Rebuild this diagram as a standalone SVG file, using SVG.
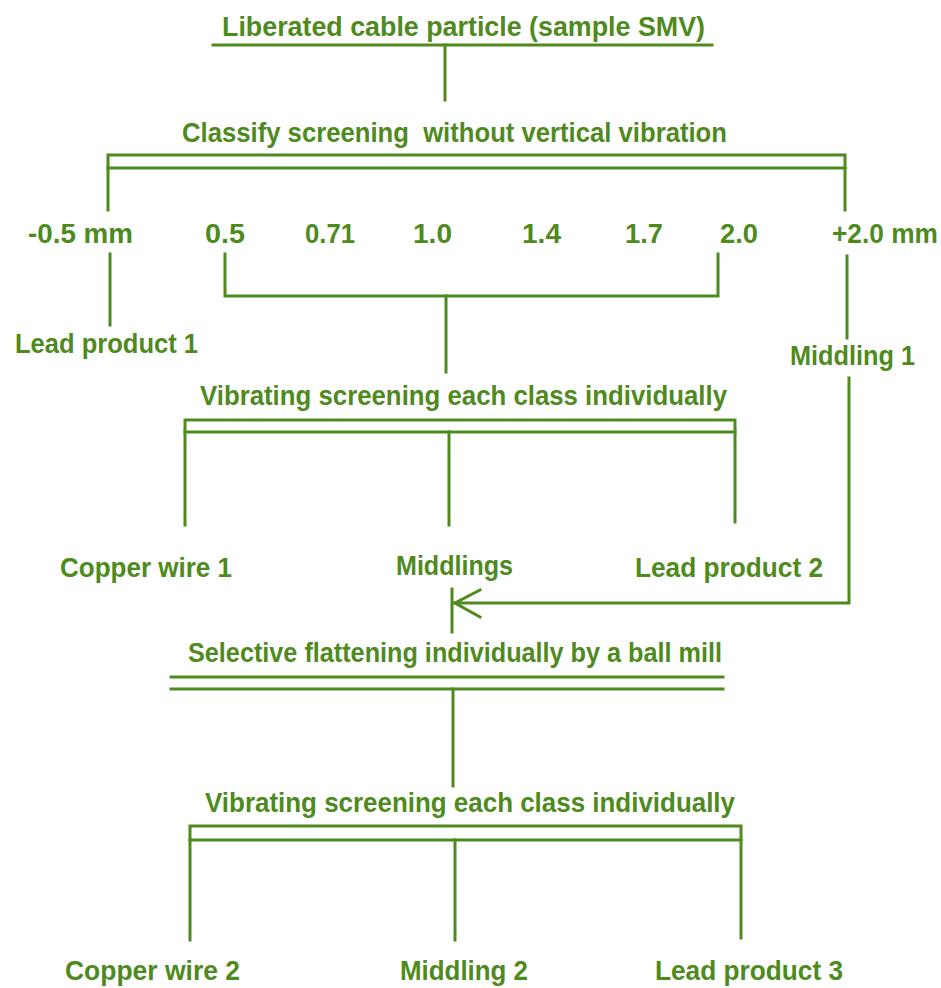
<svg xmlns="http://www.w3.org/2000/svg" width="941" height="988" viewBox="0 0 941 988">
<style>
text{font-family:"Liberation Sans",Arial,sans-serif;font-size:27px;font-weight:bold;fill:#4f8a1e;white-space:pre;}
.ln{stroke:#4f8a1e;stroke-width:3;fill:none;stroke-linecap:square;}
</style>
<rect width="941" height="988" fill="#ffffff"/>
<g id="connectors" class="ln">
<path d="M213 45 H712"/>
<path d="M445 45 V100"/>
<path d="M108 210 V155 H845 V210"/>
<path d="M108 168 H845"/>
<path d="M110 254 V325"/>
<path d="M225 254 V296 H718 V254"/>
<path d="M446 296 V372"/>
<path d="M847 256 V338"/>
<path d="M849 378 V603 H453"/>
<path d="M480 590 L455 603 L480 617"/>
<path d="M185 525 V420 H735 V522"/>
<path d="M185 432 H735"/>
<path d="M449 432 V525"/>
<path d="M452 589 V632"/>
<path d="M171 677 H723"/>
<path d="M171 689 H723"/>
<path d="M453 689 V786"/>
<path d="M190 940 V826 H741 V938"/>
<path d="M190 840 H741"/>
<path d="M455 840 V940"/>
</g>
<g id="n-source"><text x="222" y="36" textLength="483" lengthAdjust="spacingAndGlyphs">Liberated cable particle (sample SMV)</text></g>
<g id="n-classify"><text x="182" y="142" textLength="545" lengthAdjust="spacingAndGlyphs">Classify screening  without vertical vibration</text></g>
<g id="n-size-m05"><text x="28" y="243" textLength="105" lengthAdjust="spacingAndGlyphs">-0.5 mm</text></g>
<g id="n-size-05"><text x="205" y="243" textLength="40" lengthAdjust="spacingAndGlyphs">0.5</text></g>
<g id="n-size-071"><text x="305" y="243" textLength="50" lengthAdjust="spacingAndGlyphs">0.71</text></g>
<g id="n-size-10"><text x="413" y="243" textLength="39" lengthAdjust="spacingAndGlyphs">1.0</text></g>
<g id="n-size-14"><text x="522" y="243" textLength="39" lengthAdjust="spacingAndGlyphs">1.4</text></g>
<g id="n-size-17"><text x="625" y="243" textLength="38" lengthAdjust="spacingAndGlyphs">1.7</text></g>
<g id="n-size-20"><text x="720" y="243" textLength="38" lengthAdjust="spacingAndGlyphs">2.0</text></g>
<g id="n-size-p20"><text x="832" y="243" textLength="106" lengthAdjust="spacingAndGlyphs">+2.0 mm</text></g>
<g id="n-lead1"><text x="15" y="353" textLength="183" lengthAdjust="spacingAndGlyphs">Lead product 1</text></g>
<g id="n-middling1"><text x="790" y="365" textLength="125" lengthAdjust="spacingAndGlyphs">Middling 1</text></g>
<g id="n-vib1"><text x="200" y="405" textLength="527" lengthAdjust="spacingAndGlyphs">Vibrating screening each class individually</text></g>
<g id="n-copper1"><text x="60" y="577" textLength="172" lengthAdjust="spacingAndGlyphs">Copper wire 1</text></g>
<g id="n-middlings"><text x="396" y="575" textLength="117" lengthAdjust="spacingAndGlyphs">Middlings</text></g>
<g id="n-lead2"><text x="635" y="577" textLength="188" lengthAdjust="spacingAndGlyphs">Lead product 2</text></g>
<g id="n-flatten"><text x="188" y="662" textLength="534" lengthAdjust="spacingAndGlyphs">Selective flattening individually by a ball mill</text></g>
<g id="n-vib2"><text x="205" y="812" textLength="530" lengthAdjust="spacingAndGlyphs">Vibrating screening each class individually</text></g>
<g id="n-copper2"><text x="65" y="980" textLength="175" lengthAdjust="spacingAndGlyphs">Copper wire 2</text></g>
<g id="n-middling2"><text x="400" y="980" textLength="128" lengthAdjust="spacingAndGlyphs">Middling 2</text></g>
<g id="n-lead3"><text x="655" y="980" textLength="188" lengthAdjust="spacingAndGlyphs">Lead product 3</text></g>
</svg>
